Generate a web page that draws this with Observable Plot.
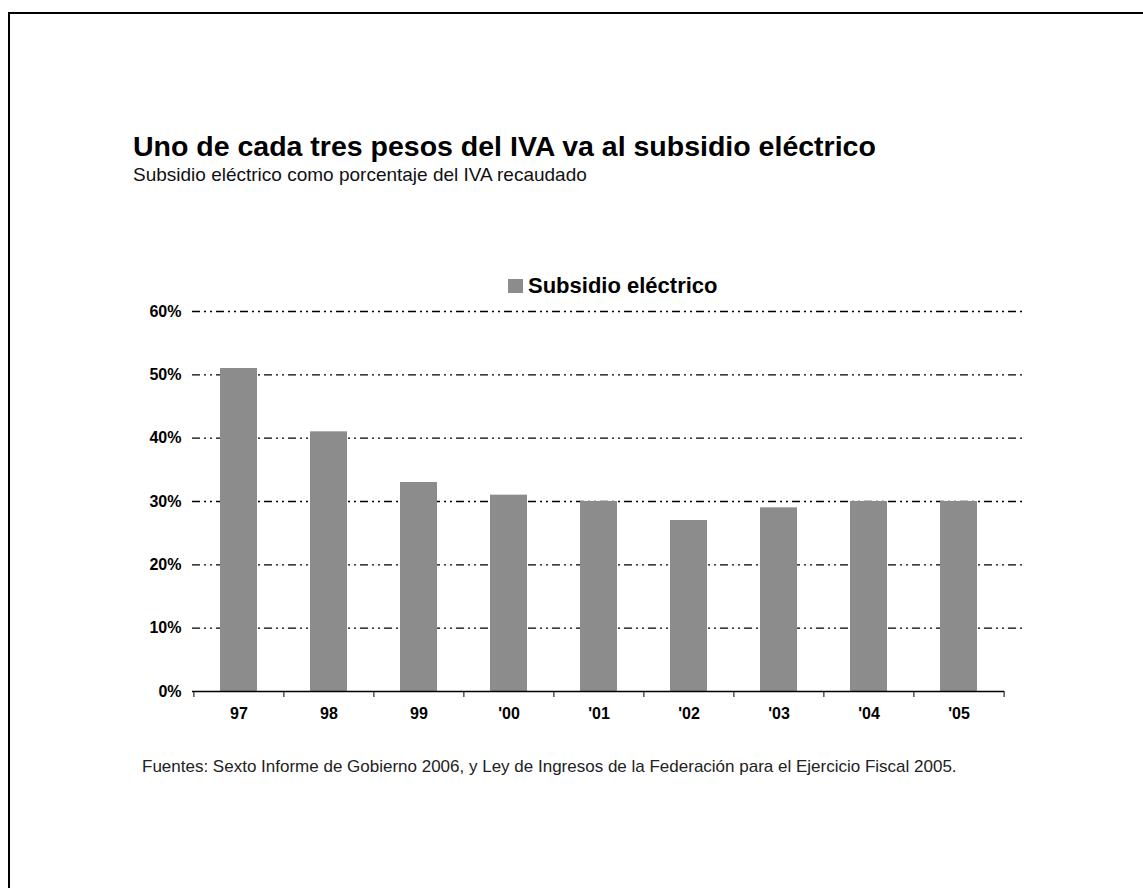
<!DOCTYPE html>
<html>
<head>
<meta charset="utf-8">
<script src="https://cdn.jsdelivr.net/npm/d3@7"></script>
<script src="https://cdn.jsdelivr.net/npm/@observablehq/plot@0.6"></script>
<style>
  html, body { margin: 0; padding: 0; background: #fff; }
  body { width: 1143px; height: 888px; position: relative; overflow: hidden;
         font-family: "Liberation Sans", Arial, Helvetica, sans-serif; color: #000; }
  .frame { position: absolute; left: 8px; top: 12px; right: -4px; bottom: -4px;
           border-left: 2px solid #000; border-top: 2px solid #000; }
  .title { position: absolute; left: 133px; top: 134px; font-size: 28.5px; line-height: 0.9; font-weight: bold; white-space: nowrap; }
  .subtitle { position: absolute; left: 133px; top: 166px; font-size: 19px; line-height: 0.9; white-space: nowrap; color: #111; }
  .legend { position: absolute; left: 508px; top: 273px; display: flex; align-items: center; white-space: nowrap; }
  .legend .sw { width: 15px; height: 14px; background: #8c8c8c; margin-right: 5px; }
  .legend .lb { font-size: 22px; font-weight: bold; }
  .caption { position: absolute; left: 142px; top: 757px; font-size: 17px; white-space: nowrap; color: #222; }
  #chart { position: absolute; left: 0; top: 290px; }
</style>
</head>
<body>
<div class="frame"></div>
<div class="title">Uno de cada tres pesos del IVA va al subsidio eléctrico</div>
<div class="subtitle">Subsidio eléctrico como porcentaje del IVA recaudado</div>
<div class="legend"><div class="sw"></div><div class="lb">Subsidio eléctrico</div></div>
<div id="chart"></div>
<div class="caption">Fuentes: Sexto Informe de Gobierno 2006, y Ley de Ingresos de la Federación para el Ejercicio Fiscal 2005.</div>
<script>
const years = ["97", "98", "99", "'00", "'01", "'02", "'03", "'04", "'05"];
const subsidio = [51, 41, 33, 31, 30, 27, 29, 30, 30];
const yTicks = [0, 10, 20, 30, 40, 50, 60];

const data = years.map((year, i) => ({year, value: subsidio[i]}));

const W = 1143, ML = 192, MR = 139;
const halfStep = (W - ML - MR) / years.length / 2;

const chart = Plot.plot({
  width: W,
  height: 450,
  marginLeft: ML,
  marginRight: MR,
  marginTop: 21,
  marginBottom: 49,
  style: { fontFamily: '"Liberation Sans", Arial, Helvetica, sans-serif', fontSize: "16px", fontWeight: "bold", color: "#000", background: "transparent" },
  x: { domain: years, paddingInner: 0.59, paddingOuter: 0.295, label: null },
  y: { domain: [0, 60], label: null },
  marks: [
    Plot.ruleY(yTicks.filter(d => d > 0), { stroke: "#000", strokeWidth: 1.3, strokeDasharray: "8,4,2,4,2,4", insetRight: -18 }),
    Plot.barY(data, { x: "year", y: "value", fill: "#8c8c8c" }),
    Plot.ruleY([0], { stroke: "#000", strokeWidth: 1.5 }),
    Plot.axisY({ ticks: yTicks, tickFormat: d => d + "%", tickSize: 0, tickPadding: 11, label: null }),
    Plot.axisX({ tickSize: 0, tickPadding: 16, label: null }),
    Plot.axisX(years, { tickSize: 6, dx: -halfStep, tickFormat: () => "", label: null }),
    Plot.axisX([years[years.length - 1]], { tickSize: 6, dx: halfStep, tickFormat: () => "", label: null })
  ]
});
document.getElementById("chart").appendChild(chart);
</script>
</body>
</html>
